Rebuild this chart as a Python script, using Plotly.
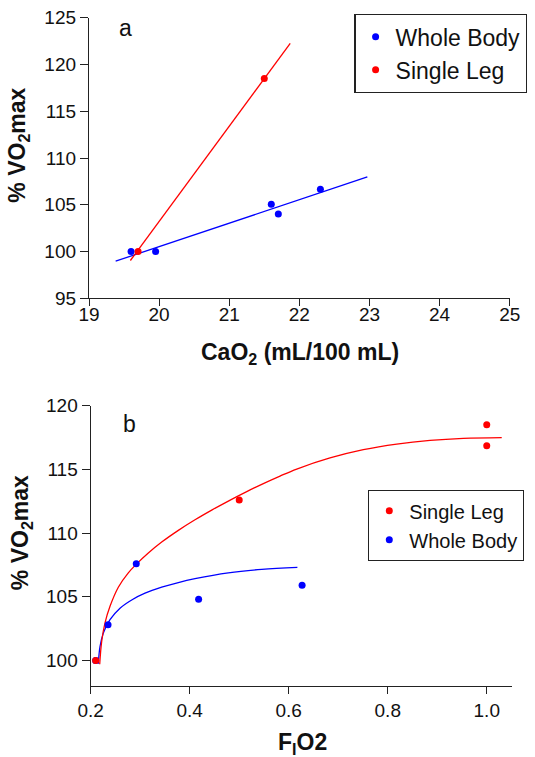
import plotly.graph_objects as go

# ---- panel a: %VO2max vs arterial O2 content ----
cao2_whole = [19.6, 19.95, 21.6, 21.7, 22.3]
vo2_whole_a = [100.0, 100.0, 105.05, 104.0, 106.65]
cao2_leg = [19.7, 21.5]
vo2_leg_a = [100.0, 118.5]

# regression lines (end points)
fit_whole_x = [19.38, 22.97]
fit_whole_y = [98.97, 107.97]
fit_leg_x = [19.59, 21.87]
fit_leg_y = [99.04, 122.26]

# ---- panel b: %VO2max vs inspired O2 fraction ----
fio2_whole = [0.21, 0.235, 0.292, 0.418, 0.627]
vo2_whole_b = [100.0, 102.8, 107.6, 104.8, 105.9]
fio2_leg = [0.21, 0.50, 1.0, 1.0]
vo2_leg_b = [100.0, 112.6, 118.5, 116.85]

# fitted curves
curve_leg_x = [0.2182, 0.2222, 0.2289, 0.239, 0.2558, 0.276, 0.2929, 0.3164, 0.3434,
               0.377, 0.4107, 0.4444, 0.478, 0.5152, 0.5487, 0.5824, 0.6162, 0.6834,
               0.7507, 0.8182, 0.8855, 0.9527, 1.0303]
curve_leg_y = [99.7, 101.5, 102.95, 104.25, 105.75, 106.88, 107.58, 108.43, 109.29,
               110.21, 111.04, 111.8, 112.51, 113.25, 113.88, 114.47, 115.02, 115.89,
               116.54, 116.98, 117.27, 117.43, 117.49]
curve_whole_x = [0.2154, 0.2188, 0.2255, 0.239, 0.2592, 0.2828, 0.3097, 0.3434, 0.377,
                 0.4107, 0.478, 0.5455, 0.6175]
curve_whole_y = [99.75, 101.1, 102.15, 103.2, 104.1, 104.75, 105.28, 105.75, 106.12,
                 106.42, 106.88, 107.15, 107.3]

ticks_a_x = [19, 20, 21, 22, 23, 24, 25]
ticks_a_y = [95, 100, 105, 110, 115, 120, 125]
ticks_b_x = [0.2, 0.4, 0.6, 0.8, 1.0]
ticks_b_y = [100, 105, 110, 115, 120]

BLUE = "#0000ff"
RED = "#ff0000"
FONT = "Liberation Sans, Arial, Helvetica, sans-serif"
W, H = 535, 757


def px(x):
    return x / W


def py(y):
    return 1 - y / H


fig = go.Figure()

# panel a
fig.add_trace(go.Scatter(x=fit_whole_x, y=fit_whole_y, mode="lines",
                         line=dict(color=BLUE, width=1.3), showlegend=False,
                         xaxis="x", yaxis="y"))
fig.add_trace(go.Scatter(x=fit_leg_x, y=fit_leg_y, mode="lines",
                         line=dict(color=RED, width=1.3), showlegend=False,
                         xaxis="x", yaxis="y"))
fig.add_trace(go.Scatter(x=cao2_whole, y=vo2_whole_a, mode="markers", name="Whole Body",
                         marker=dict(color=BLUE, size=7), legend="legend",
                         xaxis="x", yaxis="y"))
fig.add_trace(go.Scatter(x=cao2_leg, y=vo2_leg_a, mode="markers", name="Single Leg",
                         marker=dict(color=RED, size=7), legend="legend",
                         xaxis="x", yaxis="y"))

# panel b
fig.add_trace(go.Scatter(x=curve_whole_x, y=curve_whole_y, mode="lines",
                         line=dict(color=BLUE, width=1.3, shape="spline", smoothing=1.0),
                         showlegend=False, xaxis="x2", yaxis="y2"))
fig.add_trace(go.Scatter(x=curve_leg_x, y=curve_leg_y, mode="lines",
                         line=dict(color=RED, width=1.3, shape="spline", smoothing=1.0),
                         showlegend=False, xaxis="x2", yaxis="y2"))
fig.add_trace(go.Scatter(x=fio2_whole, y=vo2_whole_b, mode="markers", name="Whole Body",
                         marker=dict(color=BLUE, size=7), legend="legend2", legendrank=2,
                         xaxis="x2", yaxis="y2"))
fig.add_trace(go.Scatter(x=fio2_leg, y=vo2_leg_b, mode="markers", name="Single Leg",
                         marker=dict(color=RED, size=7), legend="legend2", legendrank=1,
                         xaxis="x2", yaxis="y2"))

axis_common = dict(showline=True, linecolor="#222", linewidth=1.3, ticks="outside",
                   tickwidth=1.3, tickcolor="#222", showgrid=False, zeroline=False,
                   tickfont=dict(family=FONT, size=19, color="#111"), automargin=False,
                   fixedrange=True)

fig.update_layout(
    width=W, height=H, margin=dict(l=0, r=0, t=0, b=0),
    paper_bgcolor="white", plot_bgcolor="white",
    font=dict(family=FONT, color="#111"),
    xaxis=dict(domain=[px(89), px(509.7)], range=[19, 25], tickvals=ticks_a_x,
               ticklen=7, ticklabelstandoff=-8, anchor="y", **axis_common),
    yaxis=dict(domain=[py(298.3), py(17.7)], range=[95, 125], tickvals=ticks_a_y,
               ticklen=8, anchor="x", **axis_common),
    xaxis2=dict(domain=[px(90.7), px(511.5)], range=[0.2, 1.05], tickvals=ticks_b_x,
                tickformat=".1f", ticklen=7, anchor="y2", **axis_common),
    yaxis2=dict(domain=[py(686), py(405.6)], range=[98, 120], tickvals=ticks_b_y,
                ticklen=8, anchor="x2", **axis_common),
    legend=dict(x=px(354.3), y=py(14), xanchor="left", yanchor="top",
                bgcolor="white", bordercolor="#222", borderwidth=1.3,
                font=dict(family=FONT, size=23, color="#111")),
    legend2=dict(x=px(368), y=py(490), xanchor="left", yanchor="top",
                 bgcolor="white", bordercolor="#222", borderwidth=1.3,
                 font=dict(family=FONT, size=20, color="#111")),
    showlegend=True,
)

title_font = dict(family=FONT, size=23, color="#111")
annotations = [
    dict(text="<b>CaO<sub>2</sub> (mL/100 mL)</b>", x=px(300), y=py(354),
         xanchor="center", yanchor="middle", font=title_font),
    dict(text="<b>% VO<sub>2</sub>max</b>", x=px(19), y=py(145.7), textangle=-90,
         xanchor="center", yanchor="middle", font=title_font),
    dict(text="<b>F<sub>I</sub>O2</b>", x=px(302), y=py(743),
         xanchor="center", yanchor="middle", font=title_font),
    dict(text="<b>% VO<sub>2</sub>max</b>", x=px(21.5), y=py(532.7), textangle=-90,
         xanchor="center", yanchor="middle", font=title_font),
    dict(text="a", x=px(125.5), y=py(28), xanchor="center", yanchor="middle",
         font=dict(family=FONT, size=23, color="#111")),
    dict(text="b", x=px(129.5), y=py(424), xanchor="center", yanchor="middle",
         font=dict(family=FONT, size=23, color="#111")),
]
for a in annotations:
    a.update(xref="paper", yref="paper", showarrow=False)
fig.update_layout(annotations=annotations)

fig.write_html("out.html")
